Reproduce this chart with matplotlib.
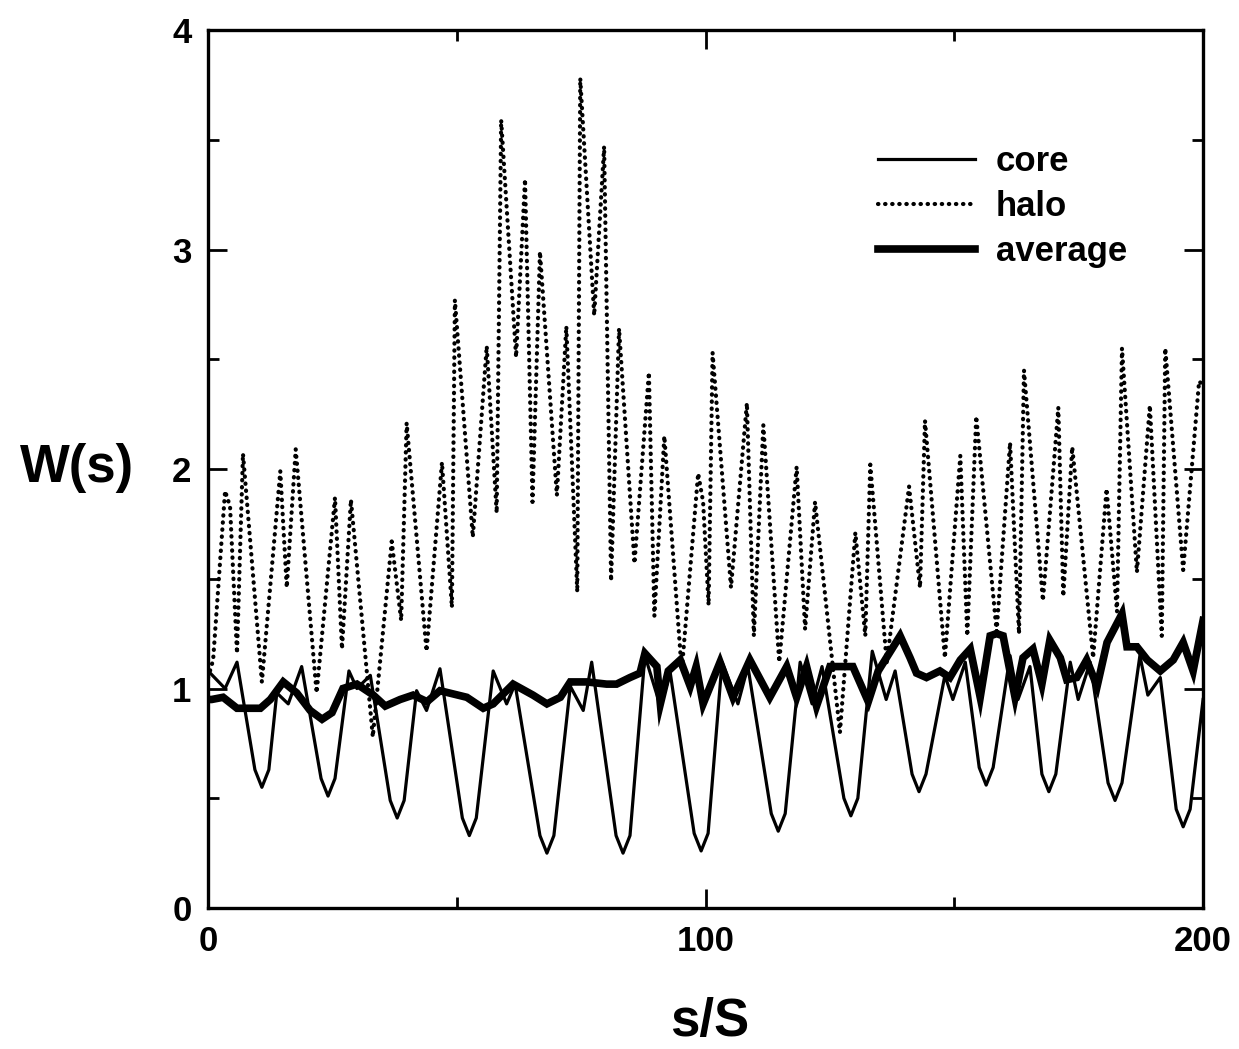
import matplotlib
matplotlib.use('Agg')
import matplotlib.pyplot as plt
from matplotlib.ticker import MultipleLocator

# core (thin solid) - key points
core_s = [0, 3.4, 5.8, 9.4, 10.8, 12.2, 13.8, 16.1, 18.8, 22.7, 24.1, 25.5, 28.3, 29.9, 32.6,
          36.6, 38.0, 39.4, 41.9, 43.9, 46.6, 51.1, 52.5, 53.9, 57.3, 60.0, 61.7,
          66.7, 68.1, 69.5, 72.8, 75.4, 77.1, 82.0, 83.4, 84.8, 87.8, 90.9, 92.9,
          97.7, 99.1, 100.5, 103.3, 106.5, 108.5, 113.2, 114.6, 116.0, 119.0, 121.4, 123.4,
          127.8, 129.2, 130.6, 133.5, 136.3, 138.1, 141.5, 142.9, 144.3, 148.1, 149.7, 152.2,
          155.0, 156.4, 157.8, 161.2, 162.8, 165.2, 167.6, 169.0, 170.4, 173.3, 174.9,
          177.3, 180.9, 182.3, 183.7, 187.3, 188.9, 191.4, 194.6, 196.0, 197.4, 200]
core_w = [1.08, 1.00, 1.12, 0.63, 0.55, 0.63, 0.98, 0.93, 1.10, 0.59, 0.51, 0.59, 1.08, 1.00, 1.06,
          0.49, 0.41, 0.49, 0.99, 0.90, 1.09, 0.41, 0.33, 0.41, 1.08, 0.93, 1.02,
          0.33, 0.25, 0.33, 1.01, 0.90, 1.12, 0.33, 0.25, 0.33, 1.15, 0.92, 1.07,
          0.34, 0.26, 0.34, 1.12, 0.93, 1.10, 0.43, 0.35, 0.43, 1.12, 0.93, 1.10,
          0.50, 0.42, 0.50, 1.17, 0.95, 1.08, 0.61, 0.53, 0.61, 1.06, 0.95, 1.12,
          0.64, 0.56, 0.64, 1.15, 0.95, 1.10, 0.61, 0.53, 0.61, 1.12, 0.95,
          1.12, 0.57, 0.49, 0.57, 1.15, 0.97, 1.05, 0.45, 0.37, 0.45, 0.95]

# halo (dotted)
halo_s = [0, 1.0, 3.4, 4.4, 5.8, 7.0, 10.8, 14.5, 15.8, 17.6, 21.8, 25.5, 26.9, 28.7, 33.1,
          36.9, 38.8, 39.9, 43.9, 47.0, 49.0, 49.6, 53.2, 56.0, 58.0, 58.9, 61.9, 63.7,
          65.2, 66.7, 70.1, 72.0, 74.2, 74.8, 77.6, 79.6, 81.0, 82.6, 85.7, 88.6, 89.7,
          91.7, 95.2, 98.5, 99.5, 100.6, 101.4, 105.1, 108.3, 109.7, 111.6, 114.8, 118.3,
          120.0, 122.0, 127.0, 130.1, 132.1, 133.1, 136.4, 140.9, 143.1, 144.1, 148.1,
          151.2, 152.6, 154.4, 158.5, 161.2, 163.0, 164.0, 167.8, 170.9, 171.9, 173.7,
          177.9, 180.6, 182.7, 183.7, 186.7, 189.3, 191.7, 192.4, 196.0, 199.2, 200]
halo_w = [1.05, 1.13, 1.90, 1.83, 1.16, 2.07, 1.03, 1.99, 1.46, 2.09, 0.98, 1.87, 1.18, 1.86, 0.78,
          1.67, 1.31, 2.21, 1.17, 2.03, 1.37, 2.77, 1.69, 2.56, 1.80, 3.59, 2.51, 3.32,
          1.85, 2.99, 1.88, 2.65, 1.44, 3.78, 2.70, 3.47, 1.49, 2.64, 1.57, 2.44, 1.33,
          2.15, 1.08, 1.98, 1.85, 1.38, 2.53, 1.46, 2.30, 1.24, 2.20, 1.12, 2.01,
          1.27, 1.85, 0.80, 1.71, 1.24, 2.02, 1.12, 1.92, 1.46, 2.22, 1.14,
          2.06, 1.24, 2.24, 1.26, 2.12, 1.25, 2.45, 1.40, 2.28, 1.42, 2.10,
          1.14, 1.91, 1.35, 2.55, 1.53, 2.29, 1.24, 2.55, 1.54, 2.40, 2.38]

# average (thick solid)
avg_s = [0, 0.7, 3.0, 5.8, 10.5, 12.5, 15.1, 17.8, 20.5, 22.9, 24.9, 27.1, 29.9, 33.2, 35.6,
         38.6, 41.2, 44.0, 46.6, 52.0, 55.3, 57.3, 61.3, 65.3, 68.1, 70.8, 72.8, 76.1, 80.1,
         82.1, 84.8, 86.8, 87.8, 90.2, 90.9, 92.5, 94.9, 96.9, 98.1, 99.5, 102.9, 105.5,
         108.9, 112.9, 116.3, 118.3, 120.3, 122.3, 125.0, 129.6, 132.7, 134.7, 139.1,
         141.1, 142.4, 144.4, 147.1, 149.1, 151.2, 153.2, 155.2, 157.2, 158.5, 159.8,
         162.2, 163.8, 165.8, 167.6, 169.2, 171.3, 172.6, 174.6, 176.6, 178.7, 180.7,
         183.7, 184.7, 186.7, 188.8, 191.4, 194.0, 196.0, 198.0, 200]
avg_w = [0.95, 0.95, 0.96, 0.91, 0.91, 0.95, 1.03, 0.98, 0.90, 0.86, 0.89, 1.00, 1.02, 0.97, 0.92,
         0.95, 0.97, 0.94, 0.99, 0.96, 0.91, 0.93, 1.02, 0.97, 0.93, 0.96, 1.03, 1.03, 1.02,
         1.02, 1.05, 1.07, 1.16, 1.10, 0.93, 1.08, 1.13, 1.01, 1.10, 0.93, 1.12, 0.96,
         1.13, 0.96, 1.10, 0.96, 1.10, 0.92, 1.10, 1.10, 0.94, 1.08, 1.24,
         1.14, 1.07, 1.05, 1.08, 1.05, 1.13, 1.18, 0.96, 1.24, 1.25, 1.24,
         0.96, 1.14, 1.18, 1.02, 1.22, 1.14, 1.04, 1.05, 1.13, 1.01, 1.21,
         1.34, 1.19, 1.19, 1.13, 1.08, 1.13, 1.21, 1.08, 1.31]

plt.rcParams['font.family'] = ['Liberation Sans', 'DejaVu Sans']
plt.rcParams['font.weight'] = 'bold'

fig = plt.figure(figsize=(12.39, 10.49), dpi=100)
ax = fig.add_axes([0.168, 0.1344, 0.803, 0.837])

ax.plot(core_s, core_w, color='black', lw=2.3, label='core')
ax.plot(halo_s, halo_w, color='black', lw=3.0, linestyle=(0, (0.1, 1.6)),
        dash_capstyle='round', label='halo')
ax.plot(avg_s, avg_w, color='black', lw=5.5, solid_joinstyle='miter', label='average')

ax.set_xlim(0, 200)
ax.set_ylim(0, 4)
ax.xaxis.set_major_locator(MultipleLocator(100))
ax.xaxis.set_minor_locator(MultipleLocator(50))
ax.yaxis.set_major_locator(MultipleLocator(1))
ax.yaxis.set_minor_locator(MultipleLocator(0.5))
ax.tick_params(which='both', direction='in', top=True, right=True, width=2)
ax.tick_params(which='major', length=14, labelsize=25, pad=12)
ax.tick_params(which='minor', length=8)
for sp in ax.spines.values():
    sp.set_linewidth(2.4)

fig.text(0.062, 1 - 468/1049, 'W(s)', fontsize=38, fontweight='bold', ha='center', va='center')
fig.text(0.573, 1 - 1022/1049, 's/S', fontsize=38, fontweight='bold', ha='center', va='center')

leg = ax.legend(loc='upper right', bbox_to_anchor=(0.955, 0.905), frameon=False,
                fontsize=25, handlelength=2.8, handletextpad=0.6, labelspacing=0.35)

fig.savefig('out.png', dpi=100)
